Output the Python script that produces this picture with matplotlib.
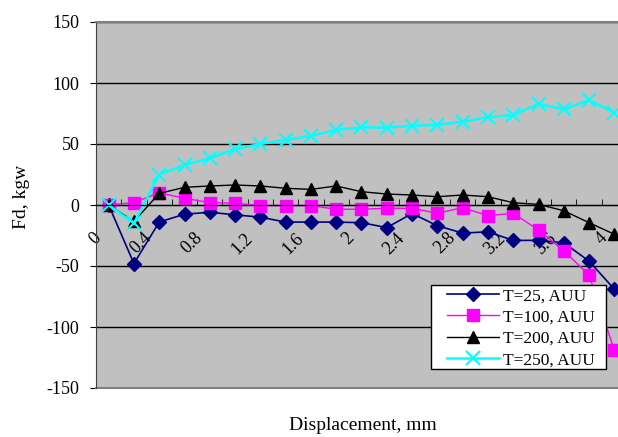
import matplotlib
matplotlib.use("Agg")
import matplotlib.pyplot as plt
import matplotlib.transforms as mtransforms
from matplotlib.patches import Rectangle
import numpy as np

plt.rcParams["font.family"] = ["Liberation Serif", "DejaVu Serif"]
plt.rcParams["axes.unicode_minus"] = False

# Displacement categories (mm), every 0.2 mm
displacement = ["0", "0.2", "0.4", "0.6", "0.8", "1", "1.2", "1.4", "1.6", "1.8", "2",
                "2.2", "2.4", "2.6", "2.8", "3", "3.2", "3.4", "3.6", "3.8", "4"]

fd_t25 = [0, -48, -14, -7.5, -6, -8, -10, -14, -14, -14, -14.5,
          -18.5, -7, -17, -23, -22, -29, -29, -31, -46, -69]
fd_t100 = [0, 2, 10, 5.5, 2, 1.5, -0.5, -0.5, -0.5, -3.5, -3.5,
           -2.7, -2.7, -6.8, -2.2, -8.7, -6.8, -20.5, -37.5, -57.5, -119]
fd_t200 = [0, -13.5, 9.5, 14.5, 15.6, 16.4, 15.6, 13.7, 12.8, 15.6, 10.9,
           9, 8.2, 6.8, 8.2, 6.8, 1.9, 0.5, -4.7, -14.5, -24]
fd_t250 = [0, -15, 25, 32.8, 38.3, 45.9, 50, 53.3, 56.6, 61.5, 63.7,
           63.4, 65, 65.6, 68.3, 71.9, 73.8, 82.8, 78.4, 86, 75.7]

series = [
    ("T=25, AUU", fd_t25, "#000080", "D", 7, 1.2),
    ("T=100, AUU", fd_t100, "#FF00FF", "s", 8.5, 1.0),
    ("T=200, AUU", fd_t200, "#000000", "^", 9, 1.0),
    ("T=250, AUU", fd_t250, "#00FFFF", "x", 9.5, 1.8),
]

W, H = 618, 437
fig = plt.figure(figsize=(W / 100, H / 100), dpi=100)
left, right, top, bottom = 96, 627, 22, 388
ax = fig.add_axes([left / W, 1 - bottom / H, (right - left) / W, (bottom - top) / H])
ax.set_facecolor("#C0C0C0")

x = np.arange(len(displacement))
for label, vals, color, marker, ms, lw in series:
    ax.plot(x, vals, color=color, lw=lw, marker=marker, ms=ms,
            mew=1.5 if marker == "x" else 1.0, label=label)

ax.set_xlim(-0.5, len(displacement) - 0.5)
ax.set_ylim(-150, 150)
ax.set_yticks(np.arange(-150, 151, 50))
ax.yaxis.grid(True, color="black", lw=1.0)
ax.set_axisbelow(True)

# category axis crosses at zero
ax.spines["bottom"].set_position(("data", 0))
ax.spines["bottom"].set_color("black")
ax.spines["left"].set_color("#404040")
ax.spines["top"].set_color("#808080")
ax.spines["top"].set_linewidth(1.5)
ax.spines["right"].set_visible(False)
ax.axhline(-150, color="#808080", lw=1.5, clip_on=False)

ax.set_xticks(x[::2])
ax.set_xticklabels(displacement[::2], rotation=45, ha="right", va="center",
                   rotation_mode="anchor", fontsize=13)
ax.set_xticks(np.arange(-0.5, len(displacement), 1), minor=True)
ax.tick_params(axis="x", which="major", length=0, pad=22)
ax.tick_params(axis="x", which="minor", length=4, direction="in", color="black")
ax.tick_params(axis="y", labelsize=13, length=4, direction="out", pad=8)

shift = mtransforms.ScaledTranslation(-0.10, 0, fig.dpi_scale_trans)
for lab in ax.get_xticklabels():
    lab.set_transform(lab.get_transform() + shift)

fig.text(22 / W, 1 - 197 / H, "Fd, kgw", rotation=90, ha="center", va="center", fontsize=14)
fig.text(363 / W, 1 - 425 / H, "Displacement, mm", ha="center", va="center", fontsize=14)

# legend box drawn as a plain white rectangle, legend entries placed inside
ax.add_patch(Rectangle((431 / W, 1 - 369 / H), 175 / W, 84 / H,
                       transform=fig.transFigure, facecolor="white",
                       edgecolor="black", lw=1.0, zorder=4, clip_on=False))
leg = ax.legend(loc="upper left", bbox_to_anchor=(447 / W, 1 - 288 / H),
                bbox_transform=fig.transFigure, borderaxespad=0, frameon=False,
                fontsize=12.5, handlelength=3.0, labelspacing=0.3,
                borderpad=0, handletextpad=0.2)
leg.set_zorder(5)

fig.savefig("out.png", dpi=100)
